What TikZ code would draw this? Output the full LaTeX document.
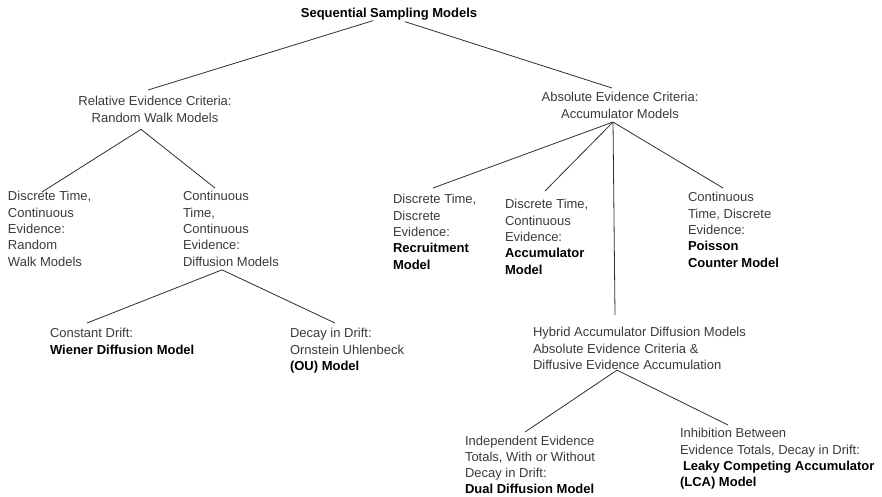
\documentclass[tikz,border=0pt]{standalone}
\usepackage{fontspec}
\setmainfont{Liberation Sans}
\usetikzlibrary{calc}
\definecolor{txtgray}{HTML}{3A3A3A}
\definecolor{linegray}{HTML}{2E2E2E}
\tikzset{
  lbl/.style={inner sep=0pt, outer sep=0pt, text=txtgray, font=\fontsize{13}{16.3}\selectfont},
  lblL/.style={lbl, align=left, anchor=north west},
  lblC/.style={lbl, align=center, anchor=north},
  conn/.style={draw=linegray, line width=0.8pt}
}
\begin{document}
\begin{tikzpicture}[x=1pt,y=-1pt]
\useasboundingbox (0,0) rectangle (882,496);

\node[lblC, text=black] (root) at (389,8.5) {\textbf{Sequential Sampling Models}};
\node[lblC] (rel) at (155,96.5) {Relative Evidence Criteria:\\Random Walk Models};
\node[lblC] (abs) at (620,92.5) {Absolute Evidence Criteria:\\Accumulator Models};

\node[lblL] (dtce) at (8,191.5) {Discrete Time,\\Continuous\\Evidence:\\Random\\Walk Models};
\node[lblL] (ctce) at (183,191.5) {Continuous\\Time,\\Continuous\\Evidence:\\Diffusion Models};

\node[lblL] (const) at (50,328.5) {Constant Drift:\\\textcolor{black}{\textbf{Wiener Diffusion Model}}};
\node[lblL] (decay) at (290,328.5) {Decay in Drift:\\Ornstein Uhlenbeck\\\textcolor{black}{\textbf{(OU) Model}}};

\node[lblL] (recr) at (393,194.5) {Discrete Time,\\Discrete\\Evidence:\\\textcolor{black}{\textbf{Recruitment}}\\\textcolor{black}{\textbf{Model}}};
\node[lblL] (accu) at (505,199.5) {Discrete Time,\\Continuous\\Evidence:\\\textcolor{black}{\textbf{Accumulator}}\\\textcolor{black}{\textbf{Model}}};
\node[lblL] (pois) at (688,192.5) {Continuous\\Time, Discrete\\Evidence:\\\textcolor{black}{\textbf{Poisson}}\\\textcolor{black}{\textbf{Counter Model}}};

\node[lblL] (hyb) at (533,327.5) {Hybrid Accumulator Diffusion Models\\Absolute Evidence Criteria \&\\Diffusive Evidence Accumulation};

\node[lblL, font=\fontsize{13}{16}\selectfont] (indep) at (465,436) {Independent Evidence\\Totals, With or Without\\Decay in Drift:\\\textcolor{black}{\textbf{Dual Diffusion Model}}};
\node[lblL] (inhib) at (680,428.5) {Inhibition Between\\Evidence Totals, Decay in Drift:\\\hspace*{3pt}\textcolor{black}{\textbf{Leaky Competing Accumulator}}\\\textcolor{black}{\textbf{(LCA) Model}}};

% connectors
\draw[conn] ($(root.south)+(-16,0)$) -- ($(rel.north)+(-7,-6.5)$);
\draw[conn] ($(root.south)+(16,1)$) -- ($(abs.north)+(-8,-4.5)$);

\draw[conn] ($(dtce.north west)+(34,0.5)$) -- ($(rel.south)+(-14,7)$) -- ($(ctce.north west)+(32,-3.5)$);

\draw[conn] ($(const.north west)+(37,-5.5)$) -- ($(ctce.south west)+(39,3.6)$) -- ($(decay.north west)+(45,-5.5)$);

\draw[conn] ($(abs.south)+(-7,3.7)$) -- ($(recr.north west)+(40,-6.5)$);
\draw[conn] ($(abs.south)+(-7,3.7)$) -- ($(accu.north west)+(40,-8.5)$);
\draw[conn] ($(abs.south)+(-7,3.7)$) -- ($(hyb.north west)+(82,-12.5)$);
\draw[conn] ($(abs.south)+(-7,3.7)$) -- ($(pois.north west)+(35,-4.5)$);

\draw[conn] ($(indep.north west)+(60,-4)$) -- ($(hyb.south west)+(84,0.5)$) -- ($(inhib.north west)+(48,-3.5)$);
\end{tikzpicture}
\end{document}
